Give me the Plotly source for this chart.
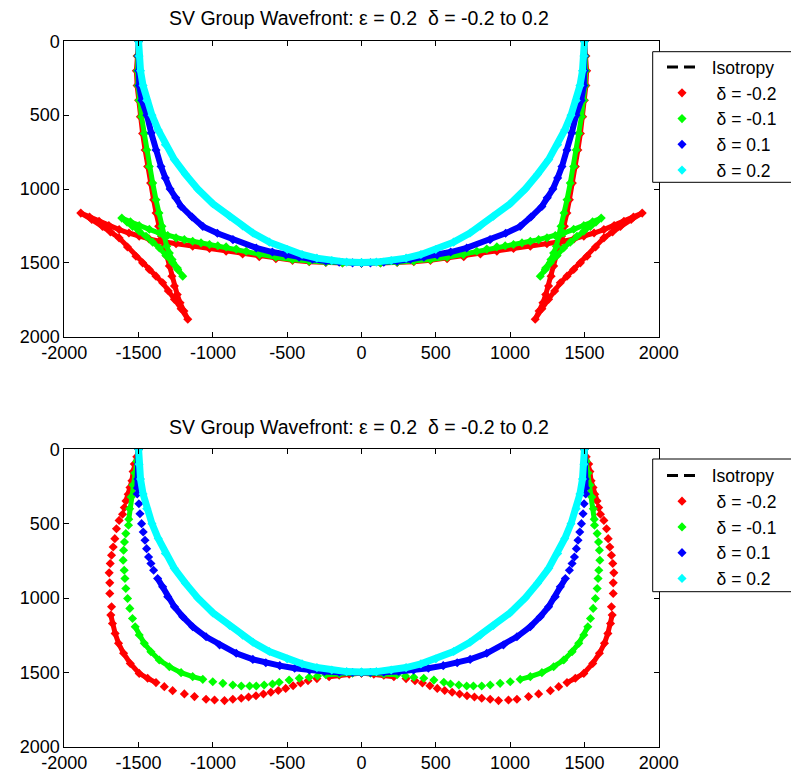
import plotly.graph_objects as go

FONT = "Liberation Sans, Arial, sans-serif"
TITLE = "SV Group Wavefront: \u03b5 = 0.2  \u03b4 = -0.2 to 0.2"
iso_name = "  Isotropy"
names = ["   \u03b4 = -0.2", "   \u03b4 = -0.1", "   \u03b4 = 0.1", "   \u03b4 = 0.2"]
colors = ["#FF0000", "#00FF00", "#0000FF", "#00FFFF"]
xticks = [-2000, -1500, -1000, -500, 0, 500, 1000, 1500, 2000]
yticks = [0, 500, 1000, 1500, 2000]

# ================= TOP PANEL =================
top_red_y = [0, 100, 200, 300, 399, 510, 624, 736, 848, 960, 1073, 1163, 1253, 1320, 1388, 1455, 1522, 1590, 1657, 1715, 1770, 1826, 1882,
             1810, 1747, 1690, 1635, 1590, 1545, 1500, 1455, 1393, 1331, 1290, 1253, 1207, 1163,
             1190, 1219, 1247, 1275, 1298, 1320, 1338, 1354, 1370, 1388, 1403, 1421, 1440, 1458, 1472, 1483, 1492, 1498, 1501, 1502]
top_red_xl = [-1500, -1510, -1515, -1510, -1500, -1488, -1473, -1456, -1439, -1419, -1399, -1382, -1365, -1346, -1327, -1310, -1293, -1276, -1259, -1240, -1221, -1195, -1169,
              -1214, -1259, -1300, -1338, -1383, -1428, -1473, -1518, -1575, -1631, -1690, -1743, -1815, -1889,
              -1830, -1766, -1700, -1631, -1565, -1496, -1430, -1360, -1248, -1136, -1023, -911, -800, -688, -576, -464, -352, -240, -128, 0]
top_red_xr = [1500, 1510, 1515, 1510, 1500, 1488, 1473, 1456, 1439, 1419, 1399, 1382, 1365, 1346, 1327, 1310, 1293, 1276, 1259, 1240, 1221, 1195, 1169,
              1214, 1259, 1300, 1338, 1383, 1428, 1473, 1518, 1575, 1631, 1690, 1743, 1815, 1889,
              1830, 1766, 1700, 1631, 1565, 1496, 1430, 1360, 1248, 1136, 1023, 911, 800, 688, 576, 464, 352, 240, 128, 0]

top_green_y = [0, 100, 200, 300, 399, 510, 624, 736, 848, 960, 1073, 1163, 1253, 1320, 1388, 1433, 1478, 1535, 1590,
               1545, 1500, 1450, 1399, 1360, 1320, 1286, 1253, 1225, 1197,
               1222, 1248, 1273, 1298, 1315, 1331, 1343, 1354, 1365, 1376, 1384, 1392, 1407, 1421, 1444, 1462, 1477, 1488, 1496, 1500, 1501]
top_green_xl = [-1500, -1506, -1508, -1504, -1496, -1480, -1462, -1445, -1428, -1405, -1383, -1363, -1343, -1327, -1311, -1293, -1275, -1240, -1203,
                -1237, -1271, -1316, -1360, -1405, -1450, -1496, -1541, -1577, -1613,
                -1555, -1496, -1428, -1360, -1304, -1248, -1192, -1136, -1080, -1023, -967, -911, -843, -776, -686, -576, -464, -352, -240, -128, 0]
top_green_xr = [1500, 1506, 1508, 1504, 1496, 1480, 1462, 1445, 1428, 1405, 1383, 1363, 1343, 1327, 1311, 1293, 1275, 1240, 1203,
                1237, 1271, 1316, 1360, 1405, 1450, 1496, 1541, 1577, 1613,
                1555, 1496, 1428, 1360, 1304, 1248, 1192, 1136, 1080, 1023, 967, 911, 843, 776, 686, 576, 464, 352, 240, 128, 0]

top_blue_y = [0, 100, 200, 300, 400, 500, 620, 736, 848, 925, 1000, 1060, 1118, 1190, 1253, 1300, 1343, 1399, 1427, 1446, 1462, 1476, 1488, 1496, 1500, 1500]
top_blue_xl = [-1500, -1502, -1500, -1496, -1478, -1444, -1415, -1383, -1349, -1320, -1288, -1250, -1214, -1140, -1068, -970, -865, -708, -600, -509, -420, -330, -240, -150, -60, 0]
top_blue_xr = [1500, 1502, 1500, 1496, 1478, 1444, 1415, 1383, 1349, 1320, 1288, 1250, 1214, 1140, 1068, 970, 865, 708, 600, 509, 420, 330, 240, 150, 60, 0]

top_cyan_y = [0, 100, 200, 300, 400, 500, 600, 700, 800, 900, 1000, 1100, 1185, 1250, 1298, 1360, 1410, 1443, 1468, 1484, 1495, 1498]
top_cyan_xl = [-1500, -1497, -1487, -1470, -1445, -1410, -1368, -1320, -1260, -1185, -1102, -1000, -888, -800, -730, -620, -500, -400, -300, -200, -100, 0]
top_cyan_xr = [1500, 1497, 1487, 1470, 1445, 1410, 1368, 1320, 1260, 1185, 1102, 1000, 888, 800, 730, 620, 500, 400, 300, 200, 100, 0]

# Isotropy curve: hidden under the delta = 0.2 curve in the picture (same path)
iso_y = [0, 100, 200, 300, 400, 500, 600, 700, 800, 900, 1000, 1100, 1185, 1250, 1298, 1360, 1410, 1443, 1468, 1484, 1495, 1498]
iso_xl = [-1500, -1497, -1487, -1470, -1445, -1410, -1368, -1320, -1260, -1185, -1102, -1000, -888, -800, -730, -620, -500, -400, -300, -200, -100, 0]
iso_xr = [1500, 1497, 1487, 1470, 1445, 1410, 1368, 1320, 1260, 1185, 1102, 1000, 888, 800, 730, 620, 500, 400, 300, 200, 100, 0]

# ================= BOTTOM PANEL =================
# dense runs (None separates runs) and sparse individual markers
bot_red_dense_y = [0, 50, 99, 150, 212, 257, 302, 347, None,
                   1115, 1171, 1238, 1305, 1372, 1440, 1507, 1540, 1569, None,
                   1529, 1520, 1512, 1505]
bot_red_dense_xl = [-1500, -1512, -1529, -1537, -1545, -1558, -1570, -1585, None,
                    -1687, -1676, -1658, -1635, -1601, -1556, -1496, -1439, -1383, None,
                    -218, -150, -83, 0]
bot_red_dense_xr = [1500, 1512, 1529, 1537, 1545, 1558, 1570, 1585, None,
                    1687, 1676, 1658, 1635, 1601, 1556, 1496, 1439, 1383, None,
                    218, 150, 83, 0]
bot_red_sparse_y = [392, 437, 478, 534, 601, 657, 713, 768, 831, 898, 970, 1059,
                    1596, 1623, 1645, 1663, 1681, 1686, 1690, 1681, 1674, 1666, 1657, 1646, 1634, 1622, 1608, 1590, 1572, 1556, 1542]
bot_red_sparse_xl = [-1596, -1608, -1631, -1649, -1660, -1671, -1682, -1691, -1698, -1694, -1694, -1682,
                     -1327, -1271, -1192, -1124, -1046, -989, -922, -866, -809, -760, -710, -660, -610, -560, -510, -460, -410, -360, -300]
bot_red_sparse_xr = [1596, 1608, 1631, 1649, 1660, 1671, 1682, 1691, 1698, 1694, 1694, 1682,
                     1327, 1271, 1192, 1124, 1046, 989, 922, 866, 809, 760, 710, 660, 610, 560, 510, 460, 410, 360, 300]

bot_green_dense_y = [0, 80, 160, 240, 320, 400, 470, None,
                     1193, 1249, 1305, 1361, 1417, 1462, 1502, 1529, 1547, None,
                     1516, 1510, 1505, 1503]
bot_green_dense_xl = [-1500, -1512, -1525, -1538, -1550, -1560, -1566, None,
                      -1523, -1496, -1462, -1417, -1361, -1293, -1214, -1136, -1068, None,
                      -240, -150, -60, 0]
bot_green_dense_xr = [1500, 1512, 1525, 1538, 1550, 1560, 1566, None,
                      1523, 1496, 1462, 1417, 1361, 1293, 1214, 1136, 1068, None,
                      240, 150, 60, 0]
bot_green_sparse_y = [511, 567, 623, 679, 746, 813, 869, 936, 1003, 1070, 1138,
                      1563, 1574, 1585, 1592, 1592, 1592, 1585, 1578, 1567, 1552, 1540, 1533, 1525]
bot_green_sparse_xl = [-1568, -1586, -1595, -1601, -1604, -1597, -1592, -1586, -1574, -1559, -1541,
                       -1001, -933, -866, -809, -753, -708, -655, -599, -554, -487, -419, -352, -296]
bot_green_sparse_xr = [1568, 1586, 1595, 1601, 1604, 1597, 1592, 1586, 1574, 1559, 1541,
                       1001, 933, 866, 809, 753, 708, 655, 599, 554, 487, 419, 352, 296]

bot_blue_dense_y = [0, 100, 200, 260, None,
                    869, 925, 992, 1059, 1126, 1193, 1261, 1316, 1372, 1413, 1435, 1455, 1472, 1485, 1494, 1499, 1501, 1501]
bot_blue_dense_xl = [-1500, -1502, -1505, -1508, None,
                     -1372, -1338, -1304, -1259, -1203, -1136, -1046, -955, -843, -731, -644, -550, -450, -350, -250, -150, -60, 0]
bot_blue_dense_xr = [1500, 1502, 1505, 1508, None,
                     1372, 1338, 1304, 1259, 1203, 1136, 1046, 955, 843, 731, 644, 550, 450, 350, 250, 150, 60, 0]
bot_blue_sparse_y = [300, 366, 433, 500, 556, 612, 668, 724, 768, 813]
bot_blue_sparse_xl = [-1509, -1498, -1491, -1480, -1469, -1457, -1446, -1433, -1417, -1399]
bot_blue_sparse_xr = [1509, 1498, 1491, 1480, 1469, 1457, 1446, 1433, 1417, 1399]

bot_cyan_dense_y = [0, 100, 200, 300, 400, 500, 600, 700, 800, 900, 1000, 1100, 1185, 1250, 1298, 1360, 1410, 1443, 1468, 1484, 1495, 1498]
bot_cyan_dense_xl = [-1500, -1497, -1487, -1470, -1445, -1410, -1368, -1320, -1260, -1185, -1102, -1000, -888, -800, -730, -620, -500, -400, -300, -200, -100, 0]
bot_cyan_dense_xr = [1500, 1497, 1487, 1470, 1445, 1410, 1368, 1320, 1260, 1185, 1102, 1000, 888, 800, 730, 620, 500, 400, 300, 200, 100, 0]
bot_cyan_sparse_y = []
bot_cyan_sparse_xl = []
bot_cyan_sparse_xr = []

# the page body margin is removed (post_script below), so the figure fills the 791x774 window
OFF = 0
W, H = 791, 774
fig = go.Figure()


def px_x(p):
    return (p - OFF) / W


def px_y(p):
    return 1 - (p - OFF) / H


def add_curve(dense_xl, dense_xr, dense_y, sparse_xl, sparse_xr, sparse_y, color, name, ax, leg, lw):
    dx = dense_xl + [None] + dense_xr
    dy = dense_y + [None] + dense_y
    fig.add_trace(go.Scatter(x=dx, y=dy, mode="lines", line=dict(color=color, width=lw),
                             showlegend=False, hoverinfo="skip", xaxis="x" + ax, yaxis="y" + ax))
    mx = [v for v in dx if v is not None] + sparse_xl + sparse_xr
    my = [v for v in dy if v is not None] + sparse_y + sparse_y
    fig.add_trace(go.Scatter(x=mx, y=my, mode="markers", name=name, legend=leg,
                             marker=dict(symbol="diamond", size=7, color=color, line=dict(width=0)),
                             xaxis="x" + ax, yaxis="y" + ax))


for ax, leg in (("", "legend"), ("2", "legend2")):
    fig.add_trace(go.Scatter(x=iso_xl + [None] + iso_xr, y=iso_y + [None] + iso_y, mode="lines",
                             name=iso_name, legend=leg,
                             line=dict(color="black", width=3, dash="11px,6px"),
                             xaxis="x" + ax, yaxis="y" + ax))
    if ax == "":
        add_curve(top_red_xl, top_red_xr, top_red_y, [], [], [], colors[0], names[0], ax, leg, 5)
        add_curve(top_green_xl, top_green_xr, top_green_y, [], [], [], colors[1], names[1], ax, leg, 5)
        add_curve(top_blue_xl, top_blue_xr, top_blue_y, [], [], [], colors[2], names[2], ax, leg, 6)
        add_curve(top_cyan_xl, top_cyan_xr, top_cyan_y, [], [], [], colors[3], names[3], ax, leg, 7)
    else:
        add_curve(bot_red_dense_xl, bot_red_dense_xr, bot_red_dense_y, bot_red_sparse_xl, bot_red_sparse_xr, bot_red_sparse_y, colors[0], names[0], ax, leg, 5)
        add_curve(bot_green_dense_xl, bot_green_dense_xr, bot_green_dense_y, bot_green_sparse_xl, bot_green_sparse_xr, bot_green_sparse_y, colors[1], names[1], ax, leg, 5)
        add_curve(bot_blue_dense_xl, bot_blue_dense_xr, bot_blue_dense_y, bot_blue_sparse_xl, bot_blue_sparse_xr, bot_blue_sparse_y, colors[2], names[2], ax, leg, 6)
        add_curve(bot_cyan_dense_xl, bot_cyan_dense_xr, bot_cyan_dense_y, bot_cyan_sparse_xl, bot_cyan_sparse_xr, bot_cyan_sparse_y, colors[3], names[3], ax, leg, 7)

xdom = [px_x(64.3), px_x(658.7)]
top_dom = [px_y(336.7), px_y(41.3)]
bot_dom = [px_y(746.7), px_y(449.3)]


def xaxis(anchor):
    return dict(domain=xdom, range=[-2000, 2000], tickvals=xticks, ticktext=[str(v) for v in xticks],
                ticks="inside", ticklen=5, tickcolor="black", showline=True, linecolor="black", linewidth=1,
                mirror="ticks", showgrid=False, zeroline=False, anchor=anchor,
                tickfont=dict(family=FONT, size=18, color="black"))


def yaxis(dom, anchor):
    return dict(domain=dom, range=[2000, 0], tickvals=yticks, ticktext=[str(v) for v in yticks],
                ticks="inside", ticklen=5, tickcolor="black", showline=True, linecolor="black", linewidth=1,
                mirror="ticks", showgrid=False, zeroline=False, anchor=anchor,
                tickfont=dict(family=FONT, size=18, color="black"))


legend_common = dict(xanchor="left", yanchor="top", bgcolor="rgba(0,0,0,0)", borderwidth=0,
                     font=dict(family=FONT, size=17.5, color="black"), itemwidth=30, tracegroupgap=0)

# legend frames: white panel with top, left and bottom edges; the right side runs off the page
shapes = []
for top_px, bot_px in ((51.7, 182.3), (459, 591.7)):
    shapes.append(dict(type="rect", xref="paper", yref="paper", layer="above",
                       x0=px_x(652.7), x1=px_x(830), y0=px_y(bot_px), y1=px_y(top_px),
                       line=dict(width=0), fillcolor="white"))
    for seg in ((652.7, top_px, 830, top_px), (652.7, bot_px, 830, bot_px), (652.7, top_px, 652.7, bot_px)):
        shapes.append(dict(type="line", xref="paper", yref="paper", layer="above",
                           x0=px_x(seg[0]), y0=px_y(seg[1]), x1=px_x(seg[2]), y1=px_y(seg[3]),
                           line=dict(color="black", width=1)))

fig.update_layout(
    width=W, height=H,
    margin=dict(l=0, r=0, t=0, b=0, autoexpand=False),
    paper_bgcolor="white", plot_bgcolor="white",
    xaxis=xaxis("y"), yaxis=yaxis(top_dom, "x"),
    xaxis2=xaxis("y2"), yaxis2=yaxis(bot_dom, "x2"),
    legend=dict(x=px_x(662), y=px_y(49.2), **legend_common),
    legend2=dict(x=px_x(662), y=px_y(457.5), **legend_common),
    shapes=shapes,
    annotations=[
        dict(text=TITLE, xref="paper", yref="paper", x=px_x(359), y=px_y(18), xanchor="center", yanchor="middle",
             showarrow=False, font=dict(family=FONT, size=19.5, color="black")),
        dict(text=TITLE, xref="paper", yref="paper", x=px_x(359), y=px_y(427), xanchor="center", yanchor="middle",
             showarrow=False, font=dict(family=FONT, size=19.5, color="black")),
    ],
    hovermode=False,
)

fig.write_html("out.html",
               config={"displayModeBar": False, "staticPlot": True},
               post_script="document.body.style.margin='0px';document.body.style.overflow='hidden';")
